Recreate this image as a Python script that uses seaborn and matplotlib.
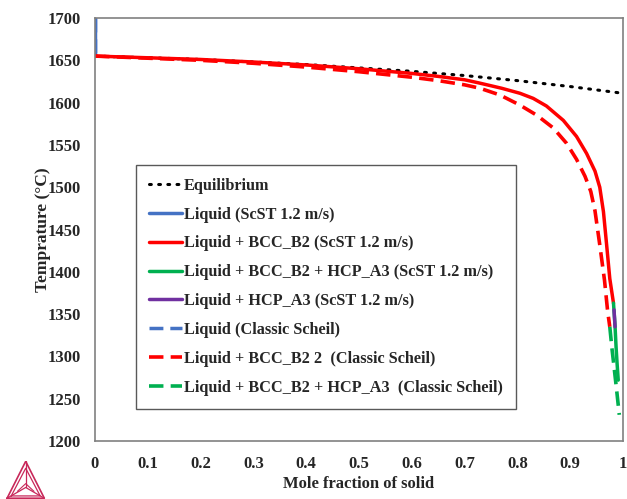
import pandas as pd
import seaborn as sns
import matplotlib.pyplot as plt

# values
eq_fs = [0.0, 0.1, 0.2, 0.3, 0.4, 0.5, 0.6, 0.7, 0.8, 0.9, 1.0]
eq_t = [1655, 1653, 1651, 1648, 1645, 1641, 1637, 1632, 1626, 1619, 1611]

liq_fs = [0.0, 0.0]
liq_t = [1700, 1655]

bcc_fs = [0.0, 0.1, 0.2, 0.3, 0.4, 0.5, 0.6, 0.65, 0.7, 0.729, 0.77, 0.805, 0.83,
          0.855, 0.887, 0.912, 0.931, 0.947, 0.956, 0.963, 0.969, 0.975, 0.982]
bcc_t = [1655, 1653, 1651, 1648, 1644.5, 1640, 1634.5, 1631, 1627, 1623, 1617, 1611, 1605,
         1596, 1579, 1560, 1540, 1519, 1500, 1471, 1432, 1392, 1363]

bcc_hcp_fs = [0.982, 0.984, 0.985, 0.987, 0.989, 0.991]
bcc_hcp_t = [1363, 1345, 1335, 1310, 1290, 1272]

hcp_fs = [0.983, 0.985]
hcp_t = [1355, 1335]

sch_liq_fs = [0.0, 0.0]
sch_liq_t = [1700, 1655]

sch_bcc_fs = [0.0, 0.1, 0.2, 0.3, 0.4, 0.5, 0.6, 0.65, 0.7, 0.729, 0.767, 0.805,
              0.837, 0.868, 0.893, 0.912, 0.928, 0.939, 0.947, 0.956, 0.965, 0.971, 0.975]
sch_bcc_t = [1655, 1652.5, 1650, 1646.5, 1642, 1636.5, 1630, 1626, 1621, 1617, 1609, 1597,
             1585, 1570, 1552, 1533, 1513, 1495, 1472, 1432, 1390, 1353, 1335]

sch_bcc_hcp_fs = [0.975, 0.979, 0.983, 0.988, 0.993]
sch_bcc_hcp_t = [1335, 1310, 1288, 1260, 1231]

labels = [
    "Equilibrium",
    "Liquid (ScST 1.2 m/s)",
    "Liquid + BCC_B2 (ScST 1.2 m/s)",
    "Liquid + BCC_B2 + HCP_A3 (ScST 1.2 m/s)",
    "Liquid + HCP_A3 (ScST 1.2 m/s)",
    "Liquid (Classic Scheil)",
    "Liquid + BCC_B2 2  (Classic Scheil)",
    "Liquid + BCC_B2 + HCP_A3  (Classic Scheil)",
]

dash = (0, (4, 2))
series = [
    (eq_fs, eq_t, "black", (0, (0.6, 2.4)), 2.2),
    (liq_fs, liq_t, "#4472C4", "-", 2.5),
    (bcc_fs, bcc_t, "#FF0000", "-", 2.5),
    (bcc_hcp_fs, bcc_hcp_t, "#00B050", "-", 2.5),
    (hcp_fs, hcp_t, "#7030A0", "-", 2.5),
    (sch_liq_fs, sch_liq_t, "#4472C4", dash, 2.5),
    (sch_bcc_fs, sch_bcc_t, "#FF0000", dash, 2.6),
    (sch_bcc_hcp_fs, sch_bcc_hcp_t, "#00B050", dash, 2.6),
]

sns.set_style("white")
plt.rcParams["font.family"] = ["Liberation Serif", "DejaVu Serif"]
plt.rcParams["font.weight"] = "bold"

fig = plt.figure(figsize=(6.27, 4.99), dpi=100)
ax = fig.add_axes([0.1515, 0.1162, 0.8421, 0.8477])

for (fs, t, color, ls, lw), label in zip(series, labels):
    df = pd.DataFrame({"fs": fs, "T": t})
    sns.lineplot(data=df, x="fs", y="T", estimator=None, sort=False,
                 color=color, linestyle=ls, linewidth=lw, label=label, ax=ax,
                 dash_capstyle="round" if label == "Equilibrium" else "butt")

ax.set_xlim(0, 1)
ax.set_ylim(1200, 1700)
ax.set_xticks([i / 10 for i in range(11)])
ax.set_xticklabels(["0", "0.1", "0.2", "0.3", "0.4", "0.5", "0.6", "0.7", "0.8", "0.9", "1"])
ax.set_yticks(range(1200, 1701, 50))
ax.tick_params(axis="x", length=0, labelsize=12, pad=11)
ax.tick_params(axis="y", length=0, labelsize=12, pad=10)
for lab in ax.get_xticklabels() + ax.get_yticklabels():
    lab.set_fontweight("bold")
for sp in ax.spines.values():
    sp.set_color("#808080")
    sp.set_linewidth(1.2)

ax.set_xlabel("Mole fraction of solid", fontsize=12, fontweight="bold", labelpad=3)
ax.set_ylabel("Temprature (°C)", fontsize=12.5, fontweight="bold", labelpad=-2)

leg = ax.legend(loc="upper left", bbox_to_anchor=(0.078, 0.653), borderaxespad=0,
                fancybox=False, edgecolor="#595959", framealpha=1,
                prop={"weight": "bold", "size": 11.7}, handlelength=2.0,
                handletextpad=0.15, labelspacing=0.79, borderpad=0.8)
leg.get_frame().set_linewidth(1.0)

# Thermo-Calc style logo in the lower left corner
lax = fig.add_axes([0.008, 0.0, 0.066, 0.077])
lax.set_xlim(0, 1)
lax.set_ylim(0, 1)
lax.axis("off")
c = "#C8285A"
lax.plot([0.05, 0.5, 0.95, 0.05], [0.02, 0.98, 0.02, 0.02], color=c, lw=1.2)
lax.plot([0.15, 0.5, 0.85, 0.15], [0.08, 0.8, 0.08, 0.08], color=c, lw=0.9)
lax.plot([0.5, 0.5], [0.98, 0.3], color=c, lw=0.9)
lax.plot([0.05, 0.5, 0.95], [0.02, 0.3, 0.02], color=c, lw=0.9)
lax.plot([0.3, 0.5, 0.7], [0.2, 0.4, 0.2], color=c, lw=0.8)

fig.savefig("out.png", dpi=100)
